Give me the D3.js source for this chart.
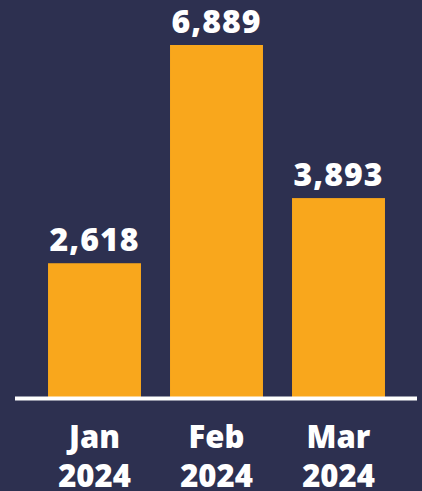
<!DOCTYPE html>
<html><head><meta charset="utf-8">
<script src="https://cdn.jsdelivr.net/npm/d3@7"></script>
<style>html,body{margin:0;padding:0;background:#2d3050;}svg{display:block;}</style>
</head><body>
<script>
const months = ["Jan", "Feb", "Mar"];
const years = ["2024", "2024", "2024"];
const values = [2618, 6889, 3893];

const W = 422, H = 491;
const baseY = 397;
const svg = d3.select("body").append("svg").attr("width", W).attr("height", H);
svg.append("rect").attr("width", W).attr("height", H).attr("fill", "#2d3050");

const x = d3.scaleBand().domain(months).range([33.5, 399.5]).paddingInner(0.238).paddingOuter(0.119);
const y = d3.scaleLinear().domain([0, 6889]).range([baseY, 45]);

const data = months.map((m, i) => ({m, yr: years[i], v: values[i]}));

svg.selectAll("rect.bar").data(data).join("rect").attr("class", "bar")
  .attr("x", d => x(d.m)).attr("width", x.bandwidth())
  .attr("y", d => y(d.v)).attr("height", d => baseY - y(d.v))
  .attr("fill", "#f9a71c");

svg.append("line").attr("x1", 15).attr("x2", 417).attr("y1", 398.5).attr("y2", 398.5)
  .attr("stroke", "#ffffff").attr("stroke-width", 4);

const font = "'Open Sans', sans-serif";
svg.selectAll("text.val").data(data).join("text").attr("class", "val")
  .attr("x", d => x(d.m) + x.bandwidth() / 2).attr("y", d => y(d.v) - 12)
  .attr("text-anchor", "middle").attr("fill", "#fff")
  .attr("font-family", font).attr("font-weight", 800).attr("font-size", 32)
  .attr("letter-spacing", 1)
  .text(d => d3.format(",")(d.v));

const lab = svg.selectAll("text.lab").data(data).join("text").attr("class", "lab")
  .attr("text-anchor", "middle").attr("fill", "#fff")
  .attr("font-family", font).attr("font-weight", 800).attr("font-size", 31);
lab.append("tspan").attr("x", d => x(d.m) + x.bandwidth() / 2).attr("y", 448).text(d => d.m);
lab.append("tspan").attr("x", d => x(d.m) + x.bandwidth() / 2).attr("y", 487).text(d => d.yr);
</script>
</body></html>
